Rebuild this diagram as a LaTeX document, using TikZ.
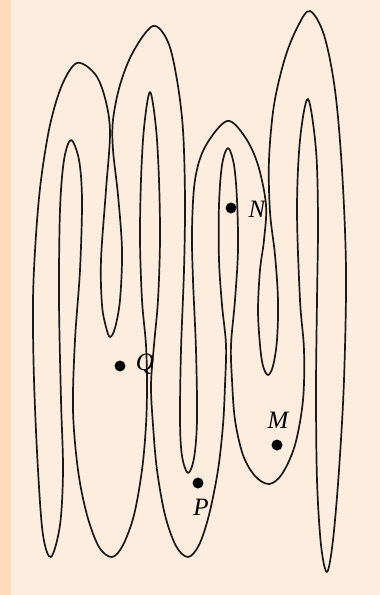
\documentclass[tikz,border=0pt]{standalone}
\usepackage{fontspec}
\setmainfont{Liberation Serif}
\definecolor{bgmain}{HTML}{FDEDDE}
\definecolor{bgstripe}{HTML}{FEDBBB}
\definecolor{ink}{HTML}{1A1A1A}
\begin{document}
\begin{tikzpicture}[x=1pt,y=-1pt,
  curve/.style={draw=ink,line width=1.7pt,line join=round},
  dotnode/.style={circle,fill=black,inner sep=0pt,minimum size=11pt},
  lab/.style={inner sep=0pt,font=\fontsize{25}{29}\selectfont\itshape}]
\fill[bgmain] (0,0) rectangle (380,595);
\fill[bgstripe] (0,0) rectangle (11,595);
\useasboundingbox (0,0) rectangle (380,595);
\draw[curve] plot[smooth cycle, tension=0.55] coordinates {
(77,63) (95,74) (105,98) (110,132) (106,190) (101,260) (102,305) (106,327) (110,337)
(115,328) (120,300) (122,250) (118,195) (113,150) (113,120) (120,85) (133,52) (153,26)
(168,42) (177,80) (183,130) (185,200) (184,270) (181,350) (180,420) (182,456) (188,473)
(194,458) (197,420) (196,350) (193,280) (192,230) (195,180) (205,147) (227,121)
(245,137) (258,165) (266,205) (264,240) (260,270) (258,310) (260,345) (263,366) (268,375)
(273,366) (277,340) (278,300) (275,255) (270,212) (269,160) (274,105) (285,58) (298,26) (310,11)
(324,35) (335,90) (342,170) (346,270) (344,380) (339,470) (333,540) (327,572)
(321,545) (317,480) (316,390) (317,300) (318,220) (316,150) (308,99)
(300,140) (297,210) (300,300) (304,350) (303,400) (295,445) (282,474) (269,484)
(255,476) (243,455) (235,420) (232,380) (231,345) (235,300) (238,250) (237,200) (234,165) (228,148)
(222,165) (219,205) (219,260) (222,305) (226,345) (225,385) (223,425) (218,470) (209,515) (199,545) (188,557)
(176,546) (165,515) (157,470) (153,425) (151,385) (154,345) (158,300) (160,240) (159,180) (156,128) (150,92)
(144,128) (141,180) (140,240) (142,300) (146,345) (147,385) (146,425) (142,470) (134,515) (123,545) (112,557)
(99,547) (87,515) (78,470) (73,410) (75,340) (80,270) (82,200) (79,160) (71,140)
(64,160) (60,210) (59,300) (61,400) (63,470) (60,525) (51,557)
(43,535) (38,470) (34,380) (33,300) (36,235) (41,180) (50,125) (62,85)
};
\node[dotnode] (Q) at (120,366) {};
\node[lab] (Qlab) at (145,364) {Q};
\node[dotnode] (N) at (231,208) {};
\node[lab] (Nlab) at (257,209) {N};
\node[dotnode] (M) at (277,445) {};
\node[lab] (Mlab) at (278,420) {M};
\node[dotnode] (P) at (198,483) {};
\node[lab] (Plab) at (201,507) {P};
\end{tikzpicture}
\end{document}
